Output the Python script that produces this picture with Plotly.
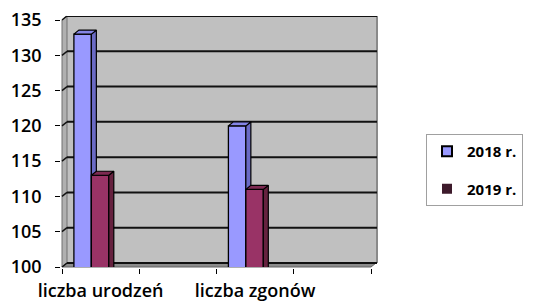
import plotly.graph_objects as go

# ---- data ----
categories = ["liczba urodzeń", "liczba zgonów"]
years = ["2018 r.", "2019 r."]
v2018 = [133, 120]
v2019 = [113, 111]
y_ticks = [100, 105, 110, 115, 120, 125, 130, 135]

# ---- geometry (pixels, in page coordinates; page body has an 8px margin) ----
OFF = 8
W, H = 535 - OFF, 302 - OFF
ML, MT = 62 - OFF, 16 - OFF
PLOT_R = 377 - OFF
PLOT_B = 267 - OFF
PW = PLOT_R - ML
PH = PLOT_B - MT
SLOT = 309 / 4.0            # px per category slot
PX_PER_UNIT_Y = 247 / 35.0  # px per value unit
DX, DY = 5, 4               # 3D depth in px

y_lo = 100
y_hi = y_lo + PH / PX_PER_UNIT_Y
x_lo = -0.5
x_hi = x_lo + PW / SLOT
dxu = DX / SLOT
dyu = DY / PX_PER_UNIT_Y

cat_pos = [2 * i for i in range(len(categories))]
bar_w = 0.226
offsets = [-0.346, -0.12]

face_cols = ["#9999ff", "#993366"]
side_cols = ["#6a6ac4", "#66223f"]
top_cols = ["#8585e6", "#7d2a52"]
legend_cols = ["#9999ff", "#3d1a2b"]

FONT = "Open Sans"

fig = go.Figure()

series = [v2018, v2019]
for si, vals in enumerate(series):
    fig.add_trace(go.Bar(
        x=cat_pos, y=vals, width=bar_w, offset=offsets[si],
        marker=dict(color=face_cols[si], line=dict(color="black", width=1.3)),
        showlegend=False, zorder=2 * si, hoverinfo="skip"))
    sx, sy, tx, ty = [], [], [], []
    for p, v in zip(cat_pos, vals):
        x0 = p + offsets[si]
        x1 = x0 + bar_w
        sx += [x1, x1 + dxu, x1 + dxu, x1, x1, None]
        sy += [y_lo - 1, y_lo - 1 + dyu, v + dyu, v, y_lo - 1, None]
        tx += [x0, x0 + dxu, x1 + dxu, x1, x0, None]
        ty += [v, v + dyu, v + dyu, v, v, None]
    fig.add_trace(go.Scatter(x=sx, y=sy, mode="lines", fill="toself",
                             fillcolor=side_cols[si],
                             line=dict(color="black", width=1.2),
                             showlegend=False, zorder=2 * si + 1, hoverinfo="skip"))
    fig.add_trace(go.Scatter(x=tx, y=ty, mode="lines", fill="toself",
                             fillcolor=top_cols[si],
                             line=dict(color="black", width=1.2),
                             showlegend=False, zorder=2 * si + 1, hoverinfo="skip"))

for si, name in enumerate(years):
    fig.add_trace(go.Scatter(
        x=[None], y=[None], mode="markers", name=name, legendgroup=name,
        marker=dict(symbol="square", size=10, color=legend_cols[si],
                    line=dict(color="black", width=2 if si == 0 else 0))))

# ---- 3D walls ----
px = lambda v: v / PW
py = lambda v: v / PH
shapes = []
shapes.append(dict(type="rect", xref="paper", yref="paper", layer="below",
                   x0=px(DX), x1=1, y0=py(DY), y1=1,
                   fillcolor="#c0c0c0", line=dict(width=0)))
shapes.append(dict(type="line", xref="paper", yref="paper", layer="below",
                   x0=1, x1=1, y0=py(DY), y1=1,
                   line=dict(color="#8a8a8a", width=2)))
shapes.append(dict(type="path", xref="paper", yref="paper", layer="below",
                   path=f"M0,0 L{px(DX)},{py(DY)} L{px(DX)},1 L0,{1 - py(DY)} Z",
                   fillcolor="#b0b0b0", line=dict(color="#707070", width=1)))
shapes.append(dict(type="path", xref="paper", yref="paper", layer="below",
                   path=f"M0,0 L{px(309)},0 L{px(309 + DX)},{py(DY)} L{px(DX)},{py(DY)} Z",
                   fillcolor="#8c8c8c", line=dict(color="#606060", width=1)))
for v in y_ticks:
    shapes.append(dict(type="line", xref="paper", yref="y", layer="below",
                       x0=px(DX), x1=1, ysizemode="pixel", yanchor=v, y0=DY, y1=DY,
                       line=dict(color="#111111", width=2)))
    shapes.append(dict(type="line", xref="paper", yref="y", layer="below",
                       xsizemode="pixel", xanchor=0, x0=0, x1=DX,
                       ysizemode="pixel", yanchor=v, y0=0, y1=DY,
                       line=dict(color="#111111", width=1.5)))

tick_font = dict(family=FONT, size=18, color="black", weight=600)

fig.update_layout(
    width=W, height=H,
    margin=dict(l=ML, r=W - PLOT_R, t=MT, b=H - PLOT_B, pad=0, autoexpand=False),
    paper_bgcolor="white", plot_bgcolor="rgba(0,0,0,0)",
    barmode="overlay",
    shapes=shapes,
    font=dict(family=FONT, size=18, color="black"),
    legend=dict(x=(426 - OFF - ML) / PW, y=(PLOT_B - (134 - OFF)) / PH,
                xanchor="left", yanchor="top",
                bgcolor="white", bordercolor="#a0a0a0", borderwidth=1,
                font=dict(family=FONT, size=15, color="black", weight="bold"),
                tracegroupgap=15, itemwidth=30),
    showlegend=True,
)
fig.update_xaxes(range=[x_lo, x_hi], tickvals=cat_pos, ticktext=categories,
                 tickfont=tick_font, ticklabeloverflow="allow",
                 ticks="outside", ticklen=0, showgrid=False, zeroline=False,
                 showline=True, linecolor="black", linewidth=1.5,
                 ticklabelstandoff=7, automargin=False,
                 minor=dict(tick0=-0.5, dtick=1, ticks="outside", ticklen=5,
                            tickcolor="black", tickwidth=1, showgrid=False))
fig.update_yaxes(range=[y_lo, y_hi], tickvals=y_ticks, ticks="outside", ticklen=5,
                 tickfont=tick_font, ticklabeloverflow="allow",
                 tickcolor="black", showgrid=False, zeroline=False,
                 showline=True, linecolor="black", linewidth=1.5,
                 ticklabelstandoff=10, automargin=False)

fig.write_html("out.html")
